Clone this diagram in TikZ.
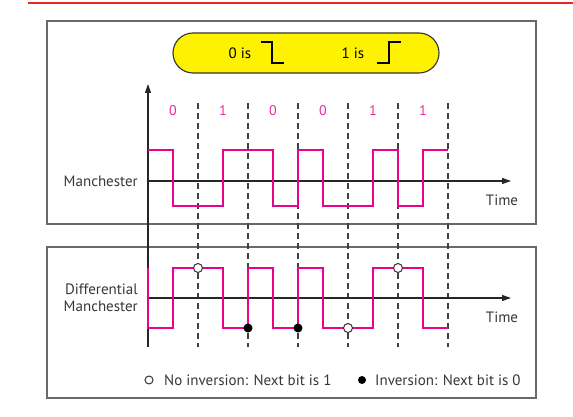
\documentclass[tikz,border=0pt]{standalone}
\usepackage{fontspec}
\setmainfont{PT Sans}
\usetikzlibrary{arrows.meta}
\definecolor{mag}{RGB}{236,0,140}
\definecolor{framegray}{RGB}{105,105,105}
\definecolor{txtgray}{RGB}{55,55,55}
\definecolor{topred}{RGB}{232,40,40}
\begin{document}
\begin{tikzpicture}[x=1pt,y=-1pt,
  frame/.style={draw=framegray,line width=1.5pt},
  pill/.style={draw=black!80,line width=1.1pt,fill=yellow,rounded corners=20pt},
  axisline/.style={draw=black!85,line width=1.1pt},
  axisarrow/.style={axisline,-{Triangle[length=9pt,width=6pt]}},
  divider/.style={draw=black!75,line width=1.1pt,dash pattern=on 6pt off 4pt},
  signal/.style={draw=mag,line width=2.3pt,line join=miter},
  stepsym/.style={draw=black,line width=2pt},
  lbl/.style={text=txtgray,font=\fontsize{15}{17}\selectfont,inner sep=0pt},
  bitlbl/.style={text=mag!85,font=\fontsize{14}{16}\selectfont,inner sep=0pt},
  opendot/.style={circle,draw=black!80,fill=white,line width=1pt,minimum size=9pt,inner sep=0pt},
  fulldot/.style={circle,fill=black,minimum size=9pt,inner sep=0pt}]
\useasboundingbox (0,0) rectangle (573,417);
\fill[white] (0,0) rectangle (573,417);
% top red rule
\draw[topred,line width=2pt] (28,3) -- (573,3);
% panels
\draw[frame] (47,21) rectangle (536,224);
\draw[frame] (47,247) rectangle (536,398);
% key pill
\draw[pill] (173,33) rectangle (439,73);
\node[lbl,text=black] (zerois) at (240,53) {0 is};
\draw[stepsym] (261,42) -- (272,42) -- (272,63) -- (284,63);
\node[lbl,text=black] (oneis) at (353,53) {1 is};
\draw[stepsym] (377,63) -- (389,63) -- (389,42) -- (401,42);
% coordinates for axes
\coordinate (vtop) at (148,84);
\coordinate (vbot) at (148,347);
\coordinate (m0) at (148,181);
\coordinate (m1) at (511,181);
\coordinate (d0) at (148,298);
\coordinate (d1) at (511,298);
% dashed bit boundaries
\foreach \x in {198,248,298,348,398,448}{
  \draw[divider] (\x,103) -- (\x,347);
}
% axes
\draw[axisarrow] (vbot) -- (vtop);
\draw[axisarrow] (m0) -- (m1);
\draw[axisarrow] (d0) -- (d1);
% bit labels
\foreach \x/\b in {173/0,223/1,273/0,323/0,373/1,423/1}{
  \node[bitlbl] at (\x,111) {\b};
}
% labels
\node[lbl,anchor=east] (manlbl) at (138,181) {Manchester};
\node[lbl,anchor=east,align=right] (difflbl) at (138,298) {Differential\\Manchester};
\node[lbl] (time1) at (502,200) {Time};
\node[lbl] (time2) at (502,317) {Time};
% Manchester signal
\draw[signal] (148,150) -- (173,150) -- (173,206) -- (223,206) -- (223,150) -- (273,150)
  -- (273,206) -- (298,206) -- (298,150) -- (323,150) -- (323,206) -- (373,206)
  -- (373,150) -- (398,150) -- (398,206) -- (423,206) -- (423,150) -- (448,150);
% Differential Manchester signal
\draw[signal] (148,268) -- (148,328) -- (173,328) -- (173,268) -- (223,268) -- (223,328)
  -- (248,328) -- (248,268) -- (273,268) -- (273,328) -- (298,328) -- (298,268)
  -- (323,268) -- (323,328) -- (373,328) -- (373,268) -- (423,268) -- (423,328) -- (448,328);
% markers
\node[opendot] (o1) at (198,268) {};
\node[fulldot] (f1) at (248,328) {};
\node[fulldot] (f2) at (298,328) {};
\node[opendot] (o2) at (348,328) {};
\node[opendot] (o3) at (398,268) {};
% legend
\node[opendot,minimum size=8pt] (lo) at (149,380) {};
\node[lbl,anchor=west] (lotext) at (164,380) {No inversion: Next bit is 1};
\node[fulldot,minimum size=8pt] (lf) at (362,380) {};
\node[lbl,anchor=west] (lftext) at (375,380) {Inversion: Next bit is 0};
\end{tikzpicture}
\end{document}
